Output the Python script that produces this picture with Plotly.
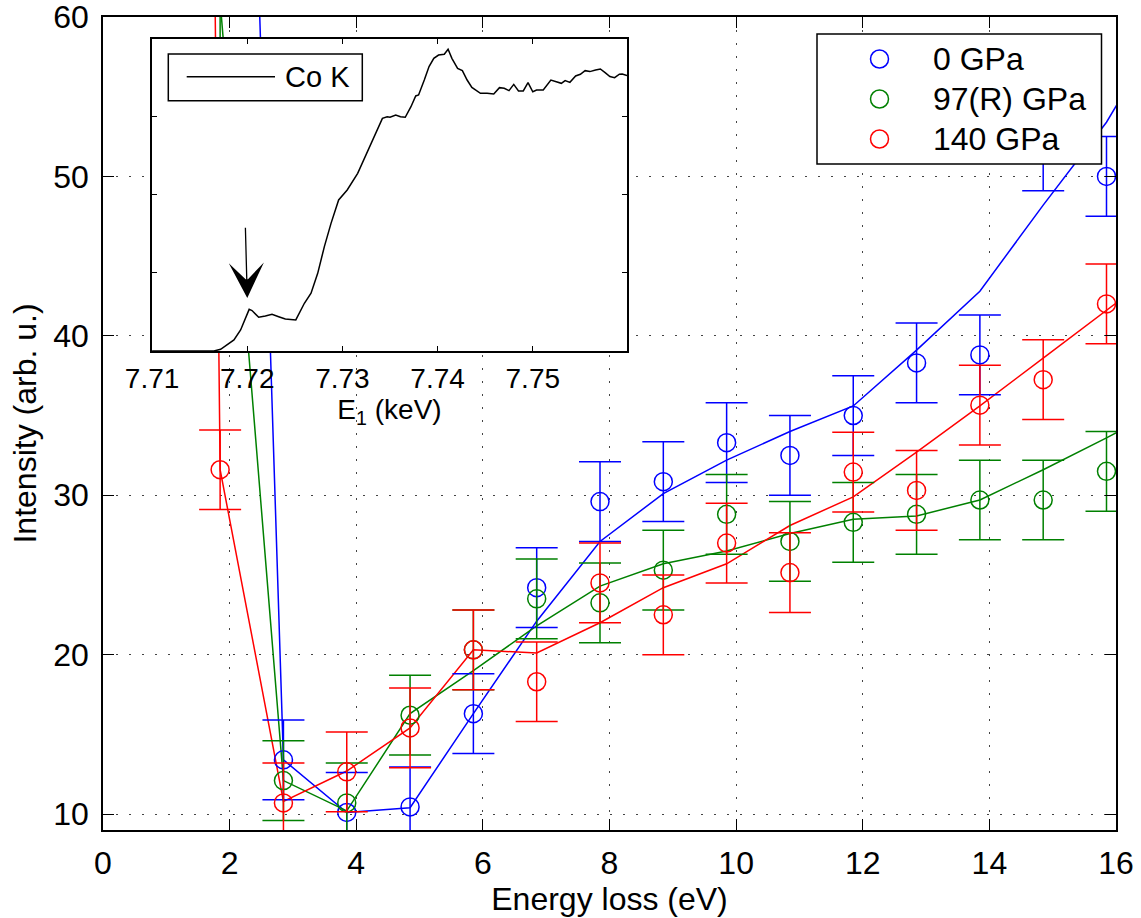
import plotly.graph_objects as go

# ---------------- data ----------------
energy_loss = [1.85, 2.85, 3.85, 4.85, 5.85, 6.85, 7.85, 8.85, 9.85, 10.85, 11.85, 12.85, 13.85, 14.85, 15.85]
int_0gpa   = [138.0, 13.4, 10.1, 10.45, 16.3, 24.2, 29.6, 30.85, 33.3, 32.5, 35.0, 38.3, 38.8, 51.6, 50.0]
int_97gpa  = [61.0, 12.1, 10.7, 16.2, 20.3, 23.5, 23.25, 25.3, 28.8, 27.1, 28.3, 28.8, 29.7, 29.7, 31.5]
int_140gpa = [31.6, 10.7, 12.65, 15.4, 20.3, 18.3, 24.5, 22.5, 27.0, 25.15, 31.45, 30.3, 35.65, 37.25, 42.0]
err_0gpa   = [2.5] * 15
err_97gpa  = [2.5] * 15
err_140gpa = [2.5] * 15

fit_energy = [0.85, 1.85, 2.85, 3.85, 4.85, 5.85, 6.85, 7.85, 8.85, 9.85, 10.85, 11.85, 12.85, 13.85, 14.85, 15.85, 16.85]
fit_0gpa   = [None, 138.0, 13.4, 10.1, 10.4, 16.3, 22.1, 27.1, 30.1, 32.2, 34.0, 35.6, 39.1, 42.8, 48.2, 53.4, 60.1]
fit_97gpa  = [None, 61.0, 12.1, 10.2, 16.3, 19.0, 21.8, 24.3, 25.7, 26.5, 27.6, 28.5, 28.7, 29.7, 31.6, 33.6, 35.7]
fit_140gpa = [400.0, 31.6, 10.8, 12.7, 15.4, 20.3, 20.1, 22.0, 24.2, 25.7, 28.1, 29.9, 32.7, 35.6, 38.6, 41.6, 44.6]

series_names = ["0 GPa", "97(R) GPa", "140 GPa"]
series_colors = ["#0000ff", "#008000", "#ff0000"]

# inset: Co K-edge absorption
co_energy = [7.7100, 7.7165, 7.7172, 7.7186, 7.7193, 7.7202, 7.7205, 7.7212, 7.7219, 7.7226,
             7.7233, 7.7240, 7.7251, 7.7260, 7.7267, 7.7274, 7.7281, 7.7288, 7.7296, 7.7305,
             7.7316, 7.7323, 7.7328, 7.7333, 7.7338, 7.7342, 7.7347, 7.7350, 7.7356, 7.7361,
             7.7366, 7.7372, 7.7377, 7.7380, 7.7386, 7.7391, 7.7396, 7.7401, 7.7407, 7.7411,
             7.7415, 7.7421, 7.7426, 7.7431, 7.7436, 7.7445, 7.7452, 7.7459, 7.7465, 7.7470,
             7.7475, 7.7480, 7.7485, 7.7490, 7.7495, 7.7500, 7.7504, 7.7511, 7.7519, 7.7526,
             7.7530, 7.7534, 7.7539, 7.7545, 7.7550, 7.7555, 7.7560, 7.7566, 7.7571, 7.7576,
             7.7581, 7.7586, 7.7591, 7.7594, 7.7599]
co_absorb = [0.000, 0.000, 0.011, 0.071, 0.135, 0.267, 0.259, 0.216, 0.224, 0.235,
             0.220, 0.205, 0.199, 0.306, 0.370, 0.498, 0.669, 0.818, 0.968, 1.032,
             1.139, 1.235, 1.299, 1.363, 1.438, 1.491, 1.502, 1.498, 1.513, 1.502,
             1.498, 1.566, 1.635, 1.641, 1.737, 1.823, 1.876, 1.897, 1.902, 1.934,
             1.876, 1.812, 1.797, 1.737, 1.690, 1.652, 1.652, 1.647, 1.688, 1.684,
             1.669, 1.709, 1.667, 1.667, 1.720, 1.662, 1.673, 1.673, 1.737, 1.722,
             1.716, 1.733, 1.722, 1.763, 1.774, 1.797, 1.791, 1.801, 1.808, 1.784,
             1.759, 1.752, 1.774, 1.776, 1.765]
inset_ticks = [7.71, 7.72, 7.73, 7.74, 7.75]
inset_ticktext = ["7.71", "7.72", "7.73", "7.74", "7.75"]
prepeak_energy = 7.7200
prepeak_arrow_tip = 0.34
prepeak_arrow_tail = 0.80

FONT = "Liberation Sans, Arial, Helvetica, sans-serif"

fig = go.Figure()

marker_sets = [int_0gpa, int_97gpa, int_140gpa]
err_sets = [err_0gpa, err_97gpa, err_140gpa]
fit_sets = [fit_0gpa, fit_97gpa, fit_140gpa]

for name, col, fy in zip(series_names, series_colors, fit_sets):
    fig.add_trace(go.Scatter(x=fit_energy, y=fy, mode="lines", name=name + " fit",
                             line=dict(color=col, width=1.5), showlegend=False,
                             xaxis="x", yaxis="y"))
for name, col, my, ey in zip(series_names, series_colors, marker_sets, err_sets):
    fig.add_trace(go.Scatter(x=energy_loss, y=my, mode="markers", name=name,
                             marker=dict(symbol="circle-open", size=18, color=col,
                                         line=dict(color=col, width=1.5)),
                             error_y=dict(type="data", array=ey, visible=True,
                                          color=col, thickness=1.5, width=21),
                             showlegend=False, xaxis="x", yaxis="y"))

# inset
fig.add_trace(go.Scatter(x=co_energy, y=co_absorb, mode="lines", name="Co K",
                         line=dict(color="black", width=1.5), showlegend=False,
                         xaxis="x2", yaxis="y2"))

grid_dash = "2px,11px"
fig.update_layout(
    width=1141, height=918,
    margin=dict(l=103, r=25, t=17, b=88, autoexpand=False),
    paper_bgcolor="white", plot_bgcolor="white",
    font=dict(family=FONT, size=32, color="black"),
    showlegend=False,
    xaxis=dict(domain=[0, 1], range=[0, 16], tickvals=[0, 2, 4, 6, 8, 10, 12, 14, 16],
               ticks="inside", ticklen=11, tickwidth=1, tickcolor="black",
               showline=True, linecolor="black", linewidth=1.5, mirror="ticks",
               showgrid=True, gridcolor="#444444", gridwidth=1, griddash=grid_dash,
               zeroline=False, automargin=False, ticklabeloverflow="allow",
               title=dict(text="Energy loss (eV)", font=dict(size=32), standoff=2),
               tickfont=dict(size=32), ticklabelstandoff=4),
    yaxis=dict(domain=[0, 1], range=[9, 60], tickvals=[10, 20, 30, 40, 50, 60],
               ticks="inside", ticklen=11, tickwidth=1, tickcolor="black",
               showline=True, linecolor="black", linewidth=1.5, mirror="ticks",
               showgrid=True, gridcolor="#444444", gridwidth=1, griddash=grid_dash,
               zeroline=False, automargin=False, ticklabeloverflow="allow",
               title=dict(text="Intensity (arb. u.)", font=dict(size=32), standoff=7),
               tickfont=dict(size=32), ticklabelstandoff=6),
    xaxis2=dict(domain=[0.04837, 0.51728], range=[7.70999, 7.7599], anchor="y2",
                tickvals=inset_ticks, ticktext=inset_ticktext,
                ticks="inside", ticklen=5, tickcolor="black",
                showline=True, linecolor="black", linewidth=1.5, mirror="ticks",
                showgrid=False, zeroline=False, tickfont=dict(size=28),
                automargin=False, ticklabeloverflow="allow", ticklabelstandoff=2,
                title=dict(text="E<sub>1</sub> (keV)", font=dict(size=28), standoff=0)),
    yaxis2=dict(domain=[0.58918, 0.97294], range=[0, 2], anchor="x2",
                tickvals=[0.5, 1.0, 1.5], showticklabels=False,
                ticks="inside", ticklen=5, tickcolor="black",
                showline=True, linecolor="black", linewidth=1.5, mirror="ticks",
                showgrid=False, zeroline=False, automargin=False),
)

# arrow marking the pre-edge peak
fig.add_annotation(x=prepeak_energy, y=prepeak_arrow_tip, xref="x2", yref="y2",
                   ax=prepeak_energy - 0.0002, ay=prepeak_arrow_tail, axref="x2", ayref="y2",
                   showarrow=True, arrowhead=3, arrowsize=4.5, arrowwidth=1.3,
                   arrowcolor="black", text="")

def px2paper_x(px):
    return (px - 103) / 1013.0

def px2paper_y(py):
    return (830 - py) / 813.0

# main legend box
fig.add_shape(type="rect", xref="paper", yref="paper",
              x0=px2paper_x(817), x1=px2paper_x(1101.5), y0=px2paper_y(164), y1=px2paper_y(34),
              line=dict(color="black", width=1.5), fillcolor="white", layer="above")
row_y = [59, 99, 139]
for name, col, ry in zip(series_names, series_colors, row_y):
    fig.add_shape(type="circle", xref="paper", yref="paper",
                  xsizemode="pixel", ysizemode="pixel",
                  xanchor=px2paper_x(879.5), yanchor=px2paper_y(ry),
                  x0=-9, x1=9, y0=-9, y1=9,
                  line=dict(color=col, width=1.5), layer="above")
    fig.add_annotation(x=px2paper_x(931), y=px2paper_y(ry), xref="paper", yref="paper",
                       text=name, showarrow=False, xanchor="left", yanchor="middle",
                       font=dict(size=32, family=FONT, color="black"))

# inset legend box
fig.add_shape(type="rect", xref="paper", yref="paper",
              x0=px2paper_x(168.3), x1=px2paper_x(362.3), y0=px2paper_y(100.7), y1=px2paper_y(54),
              line=dict(color="black", width=1.5), fillcolor="white", layer="above")
fig.add_shape(type="line", xref="paper", yref="paper",
              x0=px2paper_x(186.7), x1=px2paper_x(275), y0=px2paper_y(76.7), y1=px2paper_y(76.7),
              line=dict(color="black", width=1.5), layer="above")
fig.add_annotation(x=px2paper_x(283), y=px2paper_y(77), xref="paper", yref="paper",
                   text="Co K", showarrow=False, xanchor="left", yanchor="middle",
                   font=dict(size=29, family=FONT, color="black"))

fig.write_html("out.html", config={"displayModeBar": False},
               post_script="document.body.style.margin='0px';document.body.style.padding='0px';")
